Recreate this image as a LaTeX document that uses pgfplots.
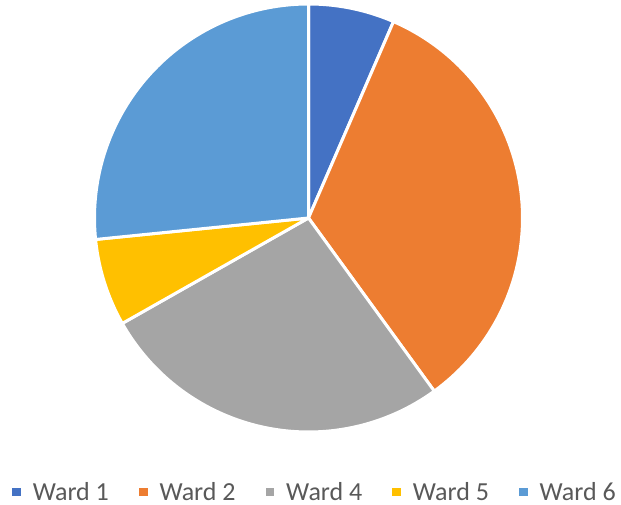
\documentclass[border=0pt]{standalone}
\usepackage{pgfplots}
\pgfplotsset{compat=1.18}
\usepackage{pgfplotstable}
\usepackage{fontspec}
\setmainfont{Carlito}
\definecolor{wA}{HTML}{4472C4}
\definecolor{wB}{HTML}{ED7D31}
\definecolor{wC}{HTML}{A5A5A5}
\definecolor{wD}{HTML}{FFC000}
\definecolor{wE}{HTML}{5B9BD5}
\definecolor{legtext}{HTML}{595959}
\pgfplotstableread{
ward value
1 6.5
2 33.5
4 26.8
5 6.6
6 26.6
}\piedata
\pgfplotstablegetelem{0}{value}\of\piedata \let\vA\pgfplotsretval
\pgfplotstablegetelem{1}{value}\of\piedata \let\vB\pgfplotsretval
\pgfplotstablegetelem{2}{value}\of\piedata \let\vC\pgfplotsretval
\pgfplotstablegetelem{3}{value}\of\piedata \let\vD\pgfplotsretval
\pgfplotstablegetelem{4}{value}\of\piedata \let\vE\pgfplotsretval
\pgfmathsetmacro\aO{90}
\pgfmathsetmacro\aA{\aO-3.6*\vA}
\pgfmathsetmacro\aB{\aA-3.6*\vB}
\pgfmathsetmacro\aC{\aB-3.6*\vC}
\pgfmathsetmacro\aD{\aC-3.6*\vD}
\pgfmathsetmacro\aE{\aD-3.6*\vE}
\def\cx{308.5}\def\cy{287}\def\rr{214}
\begin{document}
\begin{tikzpicture}
\begin{axis}[
  scale only axis, width=621pt, height=505pt,
  xmin=0, xmax=621, ymin=0, ymax=505,
  hide axis, clip=false, xtick=\empty, ytick=\empty,
  legend style={at={(axis cs:314,13)}, anchor=center, draw=none, fill=none,
    font=\fontsize{26}{31}\selectfont, text=legtext, inner sep=0pt,
    nodes={inner sep=0pt},
    /tikz/every odd column/.append style={column sep=12pt},
    /tikz/every even column/.append style={column sep=30pt}},
  legend columns=5,
  legend image code/.code={\fill[#1, draw=none] (0pt,-4.3pt) rectangle (8.6pt,4.3pt);},
  every axis plot/.append style={draw=white, line width=3pt, line join=round, samples=80, variable=\t},
]
\addplot[fill=wA, domain=\aA:\aO] ({\cx+\rr*cos(\t)}, {\cy+\rr*sin(\t)}) -- (axis cs:\cx,\cy) -- cycle;
\addlegendentry{Ward 1}
\addplot[fill=wB, domain=\aB:\aA] ({\cx+\rr*cos(\t)}, {\cy+\rr*sin(\t)}) -- (axis cs:\cx,\cy) -- cycle;
\addlegendentry{Ward 2}
\addplot[fill=wC, domain=\aC:\aB] ({\cx+\rr*cos(\t)}, {\cy+\rr*sin(\t)}) -- (axis cs:\cx,\cy) -- cycle;
\addlegendentry{Ward 4}
\addplot[fill=wD, domain=\aD:\aC] ({\cx+\rr*cos(\t)}, {\cy+\rr*sin(\t)}) -- (axis cs:\cx,\cy) -- cycle;
\addlegendentry{Ward 5}
\addplot[fill=wE, domain=\aE:\aD] ({\cx+\rr*cos(\t)}, {\cy+\rr*sin(\t)}) -- (axis cs:\cx,\cy) -- cycle;
\addlegendentry{Ward 6}
\coordinate (bbSW) at (axis cs:0,0);
\coordinate (bbNE) at (axis cs:621,505);
\end{axis}
\pgfresetboundingbox
\useasboundingbox (bbSW) rectangle (bbNE);
\end{tikzpicture}
\end{document}
